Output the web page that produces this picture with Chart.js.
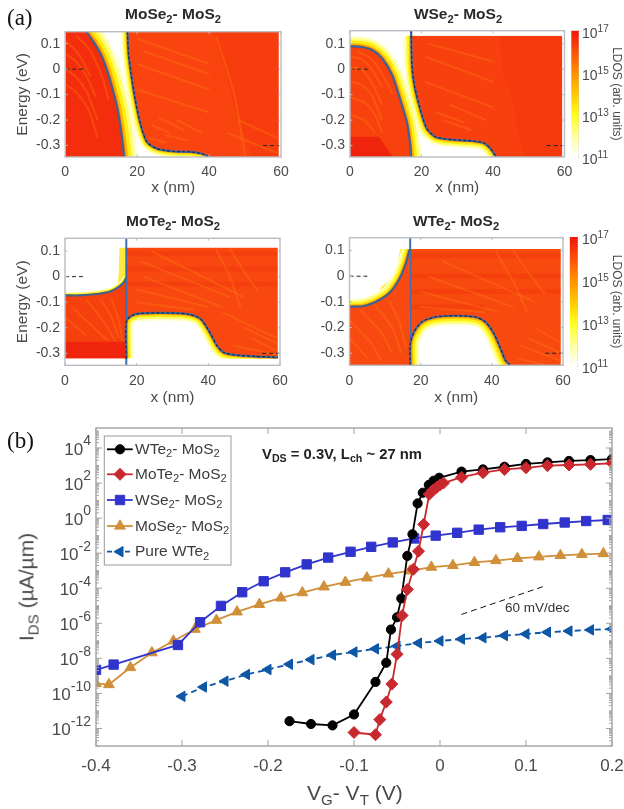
<!DOCTYPE html>
<html><head><meta charset="utf-8">
<script src="https://cdn.jsdelivr.net/npm/chart.js@4"></script>
<style>
html,body{margin:0;padding:0;background:#fff;overflow:hidden}
#page{position:relative;width:624px;height:809px;filter:blur(0.5px);font-family:"Liberation Sans",Arial,sans-serif;color:#404040}
canvas{position:absolute}
.t{position:absolute;white-space:nowrap;line-height:1}
.t sub{font-size:72%;vertical-align:baseline;position:relative;top:.32em;line-height:0}
</style></head><body><div id="page"></div>
<script>
// ---------- panel (b): transfer curves ----------
const wte2X=[-0.175,-0.15,-0.125,-0.1,-0.075,-0.0625,-0.057,-0.05,-0.045,-0.038,-0.032,-0.026,-0.02,-0.013,-0.0075,-0.001,0.025,0.05,0.075,0.1,0.125,0.15,0.175,0.2];
const wte2Y=[2.6e-12,1.8e-12,1.5e-12,6.3e-12,4.5e-10,5.6e-9,4.4e-7,2.2e-6,2.6e-5,7e-3,0.12,6.9,28,78,135,200,450,600,850,1230,1510,1820,2040,2340];
const mote2X=[-0.1,-0.075,-0.07,-0.0625,-0.056,-0.05,-0.044,-0.038,-0.031,-0.025,-0.019,-0.0125,-0.008,-0.004,0,0.004,0.025,0.05,0.075,0.1,0.125,0.15,0.175,0.2];
const mote2Y=[5.9e-13,4.4e-13,3.2e-12,3.2e-11,3.4e-10,1.7e-8,2.8e-6,8.5e-5,1.2e-3,0.013,0.44,23,40,55,78,100,215,390,600,740,980,1070,1170,1350];
const wse2X=[-0.4,-0.3795,-0.3047,-0.279,-0.2547,-0.23,-0.205,-0.18,-0.155,-0.13,-0.104,-0.08,-0.055,-0.03,-0.005,0.02,0.045,0.07,0.095,0.12,0.145,0.17,0.195];
const wse2Y=[2.2e-9,4.4e-9,5.8e-8,1.15e-6,9.8e-6,5.9e-5,2.5e-4,8.1e-4,2.3e-3,5.6e-3,0.012,0.023,0.041,0.069,0.10,0.145,0.22,0.30,0.36,0.46,0.56,0.68,0.78];
const mose2X=[-0.4,-0.385,-0.36,-0.335,-0.31,-0.285,-0.26,-0.236,-0.21,-0.185,-0.16,-0.135,-0.11,-0.085,-0.06,-0.035,-0.01,0.015,0.04,0.065,0.09,0.115,0.14,0.165,0.19];
const mose2Y=[3.7e-10,3.2e-10,3e-9,2.1e-8,9.8e-8,4.6e-7,1.5e-6,4.5e-6,1.2e-5,2.8e-5,5.6e-5,1.2e-4,2.2e-4,3.9e-4,6.6e-4,9.8e-4,1.6e-3,2e-3,3e-3,3.8e-3,5e-3,6.2e-3,7.4e-3,8.5e-3,9.5e-3];
const pureX=[-0.3,-0.275,-0.25,-0.225,-0.2,-0.175,-0.15,-0.125,-0.1,-0.075,-0.05,-0.025,0,0.025,0.05,0.075,0.1,0.125,0.15,0.175,0.2];
const pureY=[6.8e-11,2.3e-10,5e-10,1.2e-9,2.3e-9,4.6e-9,8.5e-9,1.55e-8,2.3e-8,3.5e-8,5e-8,7.4e-8,9.8e-8,1.26e-7,1.5e-7,2e-7,2.45e-7,3.1e-7,3.6e-7,4.2e-7,4.7e-7];
const slopeX=[0.025,0.122];
const slopeY=[3.2e-6,1.35e-4];
const vgTicks=[-0.4,-0.3,-0.2,-0.1,0,0.1,0.2];
const currentExps=[-12,-10,-8,-6,-4,-2,0,2,4];
// ---------- panel (a): band edges [x nm, E eV] ----------
const xTicksNm=[0,20,40,60];
const energyTicks=[-0.3,-0.2,-0.1,0,0.1];
const ldosExps=[11,13,15,17];
const mose2Left=[[5.85,0.147],[7.4,0.117],[9.75,0.062],[11.6,-0.004],[13,-0.07],[14.4,-0.148],[15.5,-0.24],[16.4,-0.345]];
const mose2Right=[[17.3,0.147],[17.6,0.062],[18.3,-0.017],[19.5,-0.122],[20.9,-0.214],[22.7,-0.286],[25.5,-0.312],[30.2,-0.323],[34.8,-0.325],[38,-0.332],[40.4,-0.348]];
const wse2Left=[[0,0.09],[3.4,0.087],[6.2,0.075],[9,0.042],[11.8,-0.024],[14.1,-0.122],[16,-0.214],[16.9,-0.306],[17.1,-0.348]];
const wse2Right=[[17.1,0.151],[17.35,0.009],[18.1,-0.07],[19.7,-0.161],[21.5,-0.234],[23.9,-0.266],[28.5,-0.277],[34.1,-0.282],[37.4,-0.29],[39.3,-0.312],[41,-0.348]];
const mote2Left=[[0,-0.0735],[4.2,-0.0735],[8.9,-0.068],[12.6,-0.058],[14.9,-0.041],[16.3,-0.024],[17.1,-0.005]];
const mote2Right=[[17.1,-0.32],[17.1,-0.175],[18.7,-0.152],[21,-0.144],[26.6,-0.142],[34,-0.146],[37.8,-0.165],[40.1,-0.211],[42.4,-0.27],[44.3,-0.297],[47.1,-0.306],[52.7,-0.312],[59.4,-0.316]];
const wte2Left=[[0,-0.119],[3.6,-0.117],[7.3,-0.1],[11.1,-0.067],[13.9,-0.014],[15.7,0.045],[16.9,0.104]];
const wte2Right=[[17.06,-0.347],[17.06,-0.264],[18.1,-0.218],[20.4,-0.178],[24.2,-0.159],[29.8,-0.154],[35.4,-0.159],[38.2,-0.178],[40.6,-0.224],[42.5,-0.283],[43.9,-0.329],[45.5,-0.352]];
const mote2Wedge=[[14.7,-0.04],[15,0.02],[15.2,0.114],[17.1,0.114]];
const wte2Wedge=[[8,-0.07],[9,-0.04],[13,0.0],[14.2,0.106],[17,0.106]];
const mote2Divider=[[17.1,-0.347],[17.1,0.15]];
const wte2Divider=[[17.06,-0.347],[17.06,0.15]];
const fermiLeft=[[0,0],[5,0]];
const fermiRight=[[55,-0.3],[60,-0.3]];
// deeper-red patches of the LDOS map
const mose2Deep=[[41,0.147],[44,0.02],[47,-0.15],[52,-0.345],[59.5,-0.345]];
const wse2Deep=[[42,0.131],[42.5,0.01],[45.3,-0.12],[49,-0.345],[59.4,-0.345]];
const wse2Corner=[[0,-0.265],[8,-0.265],[12,-0.345]];
const mote2Corner=[[0,-0.255],[17,-0.255]];
// faint stripes of the LDOS map
const mose2Stripes=[
 [[0,0.11],[2.5,0.08],[5,0.03],[7,-0.03]],[[0,0.06],[3,0.03],[6,-0.03],[8.5,-0.11]],[[0,0.0],[3,-0.03],[6,-0.09],[9,-0.2]],
 [[3,0.13],[6,0.09],[8.5,0.03],[10.5,-0.04],[12,-0.12]],[[0,-0.06],[3,-0.09],[6.5,-0.16],[9,-0.27]],
 [[24,-0.22],[29,-0.25]],[[26,-0.19],[33,-0.24]],[[28,-0.26],[34,-0.28]],[[31,-0.2],[38,-0.25]],[[23,-0.27],[28,-0.29]],
 [[20,0.12],[40,0.02]],[[20,0.02],[40,-0.08]],[[20,-0.08],[40,-0.17]],[[22,0.07],[40,-0.02]],
 [[45,-0.25],[59,-0.33]],[[48,-0.2],[59,-0.27]],[[42,0.13],[47,-0.1],[50,-0.34]]];
const wse2Stripes=[
 [[0,0.05],[3,0.04],[6,0.0],[9,-0.07]],[[0,0.01],[3,0.0],[6,-0.05],[9,-0.14]],[[0,-0.05],[3,-0.06],[6,-0.1],[9,-0.2]],
 [[0,-0.11],[4,-0.13],[7,-0.18],[9,-0.25]],[[0,-0.18],[4,-0.2],[7,-0.25]],[[2,0.07],[6,0.04],[9,-0.02],[12,-0.1]],
 [[26,-0.2],[34,-0.24]],[[24,-0.17],[32,-0.21]],[[28,-0.14],[38,-0.2]],[[21,-0.05],[40,-0.15]],[[21,0.05],[40,-0.05]],[[22,0.1],[40,0.03]]];
const mote2Stripes=[
 [[6,-0.09],[11,-0.18],[14,-0.25]],[[10,-0.09],[13,-0.16],[15,-0.24]],[[13,-0.09],[15,-0.17],[16,-0.25]],[[2,-0.12],[8,-0.2],[12,-0.25]],[[0,-0.16],[6,-0.23]],
 [[20,-0.1],[36,-0.13]],[[20,-0.05],[40,-0.12]],[[22,0.0],[44,-0.12]],[[21,0.06],[46,-0.08]],[[24,0.1],[50,-0.08]],
 [[42,0.11],[46,0.0],[49,-0.12]],[[46,0.11],[50,0.02],[54,-0.06]],[[50,-0.2],[59,-0.26]],[[52,-0.24],[59,-0.29]],[[44,-0.14],[59,-0.24]],[[47,-0.27],[59,-0.305]]];
const mote2Bands=[[[17.2,0.09],[59.4,0.09]],[[17.2,0.03],[59.4,0.03]],[[17.2,-0.03],[59.4,-0.03]]];
const wte2Stripes=[
 [[3,-0.13],[9,-0.22],[12,-0.3]],[[7,-0.11],[12,-0.2],[14.5,-0.3]],[[11,-0.09],[14,-0.18],[16,-0.28]],[[0,-0.17],[6,-0.26],[9,-0.33]],[[0,-0.24],[5,-0.32]],
 [[20,-0.12],[38,-0.14]],[[20,-0.06],[42,-0.14]],[[22,0.0],[46,-0.12]],[[26,0.06],[52,-0.1]],
 [[41,0.1],[46,-0.02],[50,-0.14]],[[46,0.1],[51,0.0],[55,-0.07]],[[48,-0.27],[59.4,-0.33]],[[50,-0.24],[59.4,-0.3]],[[52,-0.2],[59.4,-0.26]],[[47,-0.32],[55,-0.345]]];
const wte2Bands=[[[17.2,0.08],[59.4,0.08]],[[17.2,0.0],[59.4,0.0]],[[17.2,-0.06],[59.4,-0.06]],[[17.2,-0.12],[38,-0.12]]];
const ldosStops=[[0,'#ffffff'],[0.16,'#ffffa0'],[0.33,'#ffff20'],[0.5,'#ffc800'],[0.68,'#ff8a00'],[0.85,'#fb4a0a'],[1,'#f01408']];

// ---------- helpers ----------
const page=document.getElementById('page');
function html(h,x,y,css){const d=document.createElement('div');d.className='t';d.innerHTML=h;d.style.cssText='left:'+x+'px;top:'+y+'px;'+(css||'');page.appendChild(d);return d;}
function canvas(x,y,w,h){const c=document.createElement('canvas');c.width=w;c.height=h;c.style.cssText='left:'+x+'px;top:'+y+'px;width:'+w+'px;height:'+h+'px';page.appendChild(c);return c;}
const pts=a=>a.map(p=>({x:p[0],y:p[1]}));
const noPad=s=>{s.paddingLeft=0;s.paddingRight=0;s.paddingTop=0;s.paddingBottom=0;};
const axisPlugin={id:'axisBox',afterDatasetsDraw(chart,a,o){
  const {ctx,chartArea:r,scales}=chart;ctx.save();
  ctx.strokeStyle=o.tick;ctx.lineWidth=1;ctx.beginPath();
  scales.y.ticks.forEach(t=>{const y=scales.y.getPixelForValue(t.value);const l=t.minor?o.minorLen:o.len;
    ctx.moveTo(r.left,y);ctx.lineTo(r.left+l,y);if(o.mirror){ctx.moveTo(r.right,y);ctx.lineTo(r.right-l,y);}});
  scales.x.ticks.forEach(t=>{const x=scales.x.getPixelForValue(t.value);
    ctx.moveTo(x,r.bottom);ctx.lineTo(x,r.bottom-o.len);if(o.mirror){ctx.moveTo(x,r.top);ctx.lineTo(x,r.top+o.len);}});
  ctx.stroke();
  ctx.strokeStyle=o.color;ctx.lineWidth=o.width;ctx.strokeRect(r.left,r.top,r.right-r.left,r.bottom-r.top);ctx.restore();}};
// tick labels of log axes: 10 with a raised exponent, placed from the axis' own ticks
const powerLabels={id:'powerLabels',afterDraw(chart,a,o){
  const s=chart.scales.y,ctx=chart.ctx;ctx.save();ctx.fillStyle=o.color;ctx.textBaseline='middle';ctx.textAlign='left';
  s.ticks.filter(t=>t.major).forEach(t=>{
    const y=s.getPixelForValue(t.value),e=String(Math.round(Math.log10(t.value)));
    ctx.font=o.size+'px "Liberation Sans"';const w=ctx.measureText('10').width;
    ctx.font=o.expSize+'px "Liberation Sans"';const we=ctx.measureText(e).width;
    const x=o.right!==undefined?o.right-w-we:o.left;
    ctx.font=o.size+'px "Liberation Sans"';ctx.fillText('10',x,y+o.dy);
    ctx.font=o.expSize+'px "Liberation Sans"';ctx.fillText(e,x+w,y+o.dy-o.rise);});
  ctx.restore();}};
const textFont=(s,w)=>({family:'"Liberation Sans",Arial,sans-serif',size:s,weight:w||'normal'});

// ---------- one LDOS panel ----------
function panel(p){
  const pxPerEv=(p.bottom-p.top)/(p.yMax-p.yMin);
  const clip={left:0,top:-(p.yMax-p.heatTop)*pxPerEv,right:-(60-p.heatRight)*(p.right-p.left)/60,bottom:-(p.heatBot-p.yMin)*pxPerEv};
  const cl=y=>Math.max(p.heatBot,Math.min(p.heatTop,y));
  const ds=[];
  const line=(d,o)=>ds.push(Object.assign({data:pts(d),pointRadius:0,borderWidth:0,tension:0.25,fill:false,clip:clip,borderCapStyle:'butt'},o));
  const clampd=a=>a.map(q=>[q[0],cl(q[1])]);
  if(p.wedge) line(p.wedge,{fill:{value:-0.12},backgroundColor:'#ffe840',tension:0});
  const haloColors=[['#ffffc8',1],['#ffff70',0.78],['#ffee10',0.55],['#ffb400',0.3],['#ff7a08',0.14]];
  [[p.leftEdge,p.leftHalo],[p.rightEdge,p.rightHalo]].forEach(e=>haloColors.forEach(h=>line(e[0],{borderColor:h[0],borderWidth:Math.max(1,e[1]*h[1])})));
  const L=clampd(p.leftEdge);if(L[0][0]>0)L.unshift([0,L[0][1]]);
  line(L,{fill:{value:p.heatBot},backgroundColor:p.leftColor});
  const R=clampd(p.rightEdge);R.push([p.heatRight,R[R.length-1][1]]);
  line(R,{fill:{value:p.heatTop},backgroundColor:p.rightColor});
  if(p.deep) line(p.deep,{fill:{value:p.heatTop},backgroundColor:'rgba(240,24,8,0.14)',tension:0.1});
  if(p.corner) line(p.corner,{fill:{value:p.heatBot},backgroundColor:'#f0240c',tension:0});
  (p.bands||[]).forEach(b=>line(b,{borderColor:'rgba(236,30,8,0.22)',borderWidth:5,tension:0}));
  p.stripes.forEach(s=>line(s,{borderColor:'rgba(255,125,18,0.34)',borderWidth:2}));
  line(fermiLeft,{borderColor:'#222',borderWidth:1,borderDash:[4,3],clip:0,tension:0});
  line(p.fermi||fermiRight,{borderColor:'#222',borderWidth:1,borderDash:[4,3],clip:0,tension:0});
  if(p.divider) line(p.divider,{borderColor:'#3a6fb4',borderWidth:2,clip:0,tension:0});
  line(p.leftEdge,{borderColor:'#40638f',borderWidth:2.2,clip:0});
  line(p.rightEdge,{borderColor:'#3f6ca6',borderWidth:2.2,clip:0});
  line(p.rightEdge,{borderColor:'#22262e',borderWidth:1.1,borderDash:[3,2],clip:0});
  ds.forEach((d,i)=>d.order=ds.length-i);
  const c=canvas(p.cx,p.cy,p.cw,p.ch);
  new Chart(c,{type:'line',data:{datasets:ds},plugins:[axisPlugin],options:{
    responsive:false,animation:false,parsing:true,
    layout:{padding:{left:0,top:p.top-p.cy,right:p.cx+p.cw-p.right,bottom:0}},
    plugins:{legend:{display:false},tooltip:{enabled:false},axisBox:{color:'#b9bcc2',width:1.4,tick:'#b9bcc2',len:2.5,minorLen:2,mirror:true}},
    scales:{
      x:{type:'linear',min:0,max:60,grid:{display:false,drawTicks:false},border:{display:false},
        afterFit:s=>{s.height=p.cy+p.ch-p.bottom;noPad(s);},afterBuildTicks:s=>{s.ticks=xTicksNm.map(v=>({value:v}));},
        ticks:{padding:7,color:'#4a4a4a',font:textFont(14),maxRotation:0,autoSkip:false},
        title:{display:true,text:'x (nm)',color:'#4a4a4a',font:textFont(15.5),padding:{top:0,bottom:p.titleGap}}},
      y:{type:'linear',min:p.yMin,max:p.yMax,grid:{display:false,drawTicks:false},border:{display:false},
        afterFit:s=>{s.width=p.left-p.cx;noPad(s);},afterBuildTicks:s=>{s.ticks=energyTicks.map(v=>({value:v}));},
        ticks:{padding:5,color:'#4a4a4a',font:textFont(14),autoSkip:false,callback:v=>String(v)},
        title:{display:p.yTitle,text:'Energy (eV)',color:'#4a4a4a',font:textFont(15.5),padding:{top:13,bottom:0}}}
    }}});
}
const gap=8;
panel({cx:0,cy:0,cw:312,ch:205,left:65.2,right:281,top:31.7,bottom:157,yMin:-0.345,yMax:0.147,heatTop:0.147,heatBot:-0.345,heatRight:59.4,
  leftEdge:mose2Left,rightEdge:mose2Right,leftHalo:27,rightHalo:13,leftColor:'#f42e0c',rightColor:'#f9440f',deep:mose2Deep,stripes:mose2Stripes,yTitle:true,titleGap:gap});
panel({cx:312,cy:0,cw:272,ch:205,left:350,right:564.5,top:30.7,bottom:157,yMin:-0.345,yMax:0.151,heatTop:0.131,heatBot:-0.345,heatRight:59.4,
  leftEdge:wse2Left,rightEdge:wse2Right,leftHalo:21,rightHalo:15,leftColor:'#f8420e',rightColor:'#f8400e',deep:wse2Deep,corner:wse2Corner,stripes:wse2Stripes,yTitle:false,titleGap:gap});
panel({cx:0,cy:205,cw:312,ch:210,left:65,right:280,top:238.3,bottom:365.3,yMin:-0.347,yMax:0.15,heatTop:0.114,heatBot:-0.32,heatRight:59.4,
  leftEdge:mote2Left,rightEdge:mote2Right,leftHalo:7,rightHalo:15,leftColor:'#f6400e',rightColor:'#f84810',wedge:mote2Wedge,corner:mote2Corner,divider:mote2Divider,stripes:mote2Stripes,bands:mote2Bands,yTitle:true,titleGap:gap});
panel({cx:312,cy:205,cw:272,ch:210,left:349.5,right:563,top:237.7,bottom:365.3,yMin:-0.347,yMax:0.15,heatTop:0.106,heatBot:-0.347,heatRight:59.4,
  leftEdge:wte2Left,rightEdge:wte2Right,leftHalo:16,rightHalo:19,leftColor:'#f84a10',rightColor:'#f8490f',wedge:wte2Wedge,divider:wte2Divider,stripes:wte2Stripes,bands:wte2Bands,yTitle:false,titleGap:gap});

// ---------- colour bars ----------
function colorbar(cx,cy,ch,left,right,top,bottom){
  const c=canvas(cx,cy,624-cx,ch);
  new Chart(c,{type:'bar',data:{labels:['LDOS'],datasets:[{data:[[Math.pow(10,ldosExps[0]),Math.pow(10,ldosExps[3])]],barPercentage:1,categoryPercentage:1,
    backgroundColor:ctx=>{const a=ctx.chart.chartArea;if(!a)return '#f40';const g=ctx.chart.ctx.createLinearGradient(0,a.bottom,0,a.top);ldosStops.forEach(s=>g.addColorStop(s[0],s[1]));return g;}}]},
   plugins:[powerLabels],
   options:{responsive:false,animation:false,layout:{padding:{left:left-cx,top:top-cy,right:0,bottom:cy+ch-bottom}},
    plugins:{legend:{display:false},tooltip:{enabled:false},powerLabels:{left:582-cx,color:'#4a4a4a',size:14,expSize:10,dy:3.5,rise:5}},
    scales:{x:{display:false},
     y:{type:'logarithmic',position:'right',min:1e11,max:1e17,grid:{display:false,drawTicks:false},border:{color:'#c8c8c8'},
        afterFit:s=>{s.width=624-right;noPad(s);},afterBuildTicks:s=>{s.ticks=ldosExps.map(e=>({value:Math.pow(10,e),major:true}));},
        ticks:{display:false},
        title:{display:true,text:'LDOS (arb. units)',color:'#4a4a4a',font:textFont(12),padding:{top:0,bottom:1}}}}}});
}
colorbar(566,15,160,571.3,578.7,30.7,157);
colorbar(566,222,160,569.7,577.7,237,366);

// ---------- transfer chart ----------
function series(label,xs,ys,o){return Object.assign({label,data:xs.map((x,i)=>({x,y:ys[i]})),borderWidth:1.8,tension:0,fill:false,pointBorderWidth:1},o);}
const mainSets=[
  series('Pure WTe2',pureX,pureY,{borderColor:'#0e56a6',backgroundColor:'#0e56a6',borderDash:[6,4],pointStyle:'triangle',rotation:-90,pointRadius:6,order:5}),
  series('MoSe2- MoS2',mose2X,mose2Y,{borderColor:'#d08f38',backgroundColor:'#d08f38',pointStyle:'triangle',pointRadius:6.2,order:4}),
  series('WSe2- MoS2',wse2X,wse2Y,{borderColor:'#3034cc',backgroundColor:'#3034cc',pointStyle:'rect',pointRadius:6.6,order:3}),
  series('WTe2- MoS2',wte2X,wte2Y,{borderColor:'#000',backgroundColor:'#000',pointStyle:'circle',pointRadius:4.6,order:2}),
  series('MoTe2- MoS2',mote2X,mote2Y,{borderColor:'#c9282e',backgroundColor:'#c9282e',pointStyle:'rectRot',pointRadius:6,order:1}),
  {label:'60 mV/dec',data:slopeX.map((x,i)=>({x,y:slopeY[i]})),borderColor:'#111',borderWidth:1,borderDash:[6,4],pointRadius:0,order:6}
];
const legendOrder=[3,4,2,1,0];
const legendBox={id:'legendBox',afterDatasetsDraw(chart){
  const ctx=chart.ctx,oy=420;ctx.save();
  ctx.fillStyle='#fff';ctx.fillRect(104.3,436-oy,126.7,129);
  ctx.strokeStyle='#9a9a9a';ctx.lineWidth=1;ctx.strokeRect(104.3,436-oy,126.7,129);
  [449.3,474.3,500,526,551.7].forEach((y,i)=>{const d=mainSets[legendOrder[i]];
    ctx.beginPath();ctx.strokeStyle=d.borderColor;ctx.lineWidth=1.8;ctx.setLineDash(d.borderDash?[5,4]:[]);ctx.moveTo(107,y-oy);ctx.lineTo(132.7,y-oy);ctx.stroke();ctx.setLineDash([]);
    ctx.fillStyle=d.backgroundColor;ctx.strokeStyle=d.borderColor;ctx.lineWidth=1;
    Chart.helpers.drawPoint(ctx,{pointStyle:d.pointStyle,radius:d.pointRadius,rotation:d.rotation||0,borderWidth:1},120,y-oy);});
  ctx.restore();}};
const mainCanvas=canvas(0,420,624,389);
new Chart(mainCanvas,{type:'line',data:{datasets:mainSets},plugins:[axisPlugin,legendBox,powerLabels],options:{
  responsive:false,animation:false,
  layout:{padding:{left:0,top:8,right:12,bottom:0}},
  plugins:{legend:{display:false},tooltip:{enabled:false},powerLabels:{right:91,color:'#4a4a4a',size:17,expSize:14,dy:2,rise:8.5},axisBox:{color:'#a8a8a8',width:1.5,tick:'#a0a0a0',len:6,minorLen:3,mirror:true}},
  scales:{
    x:{type:'linear',min:-0.4,max:0.2,grid:{display:false,drawTicks:false},border:{display:false},
      afterFit:s=>{s.height=809-746;noPad(s);},afterBuildTicks:s=>{s.ticks=vgTicks.map(v=>({value:v}));},
      ticks:{padding:10,color:'#4a4a4a',font:textFont(17),maxRotation:0,autoSkip:false,callback:v=>String(v)}},
    y:{type:'logarithmic',min:1e-13,max:Math.pow(10,5.14),grid:{display:false,drawTicks:false},border:{display:false},
      afterFit:s=>{s.width=96;noPad(s);},
      afterBuildTicks:s=>{const t=[];for(let e=-13;e<5;e++){for(let m=1;m<10;m++){const isMajor=m===1&&currentExps.includes(e);t.push({value:m*Math.pow(10,e),major:isMajor,minor:!isMajor});}}s.ticks=t;},
      ticks:{display:false}}
  }}});

// ---------- text with sub/superscripts ----------
html('(a)',7,6,'font-family:\'Liberation Serif\',serif;font-size:23px;color:#111');
html('(b)',7,429,'font-family:\'Liberation Serif\',serif;font-size:23px;color:#111');
const tb='font-weight:bold;font-size:15.5px;color:#2a2a2a;transform:translateX(-50%);';
html('MoSe<sub>2</sub>- MoS<sub>2</sub>',173,6,tb);
html('WSe<sub>2</sub>- MoS<sub>2</sub>',458,6,tb);
html('MoTe<sub>2</sub>- MoS<sub>2</sub>',173,213,tb);
html('WTe<sub>2</sub>- MoS<sub>2</sub>',456,213,tb);
const lg='font-size:15.5px;color:#3c3c3c;';
['WTe','MoTe','WSe','MoSe'].forEach((n,i)=>html(n+'<sub>2</sub>- MoS<sub>2</sub>',135,[449.3,474.3,500,526][i]-8.5,lg));
html('Pure WTe<sub>2</sub>',135,543,lg);
html('V<sub>DS</sub> = 0.3V, L<sub>ch</sub> ~ 27 nm',262,447,'font-weight:bold;font-size:14.8px;color:#222');
html('60 mV/dec',505,601,'font-size:13.5px;color:#333');
html('V<sub>G</sub>- V<sub>T</sub> (V)',307,782,'font-size:21px;color:#4a4a4a');
html('I<sub>DS</sub> (µA/µm)',26,587,'font-size:21px;color:#4a4a4a;transform:translate(-50%,-50%) rotate(-90deg);');
</script></body></html>
